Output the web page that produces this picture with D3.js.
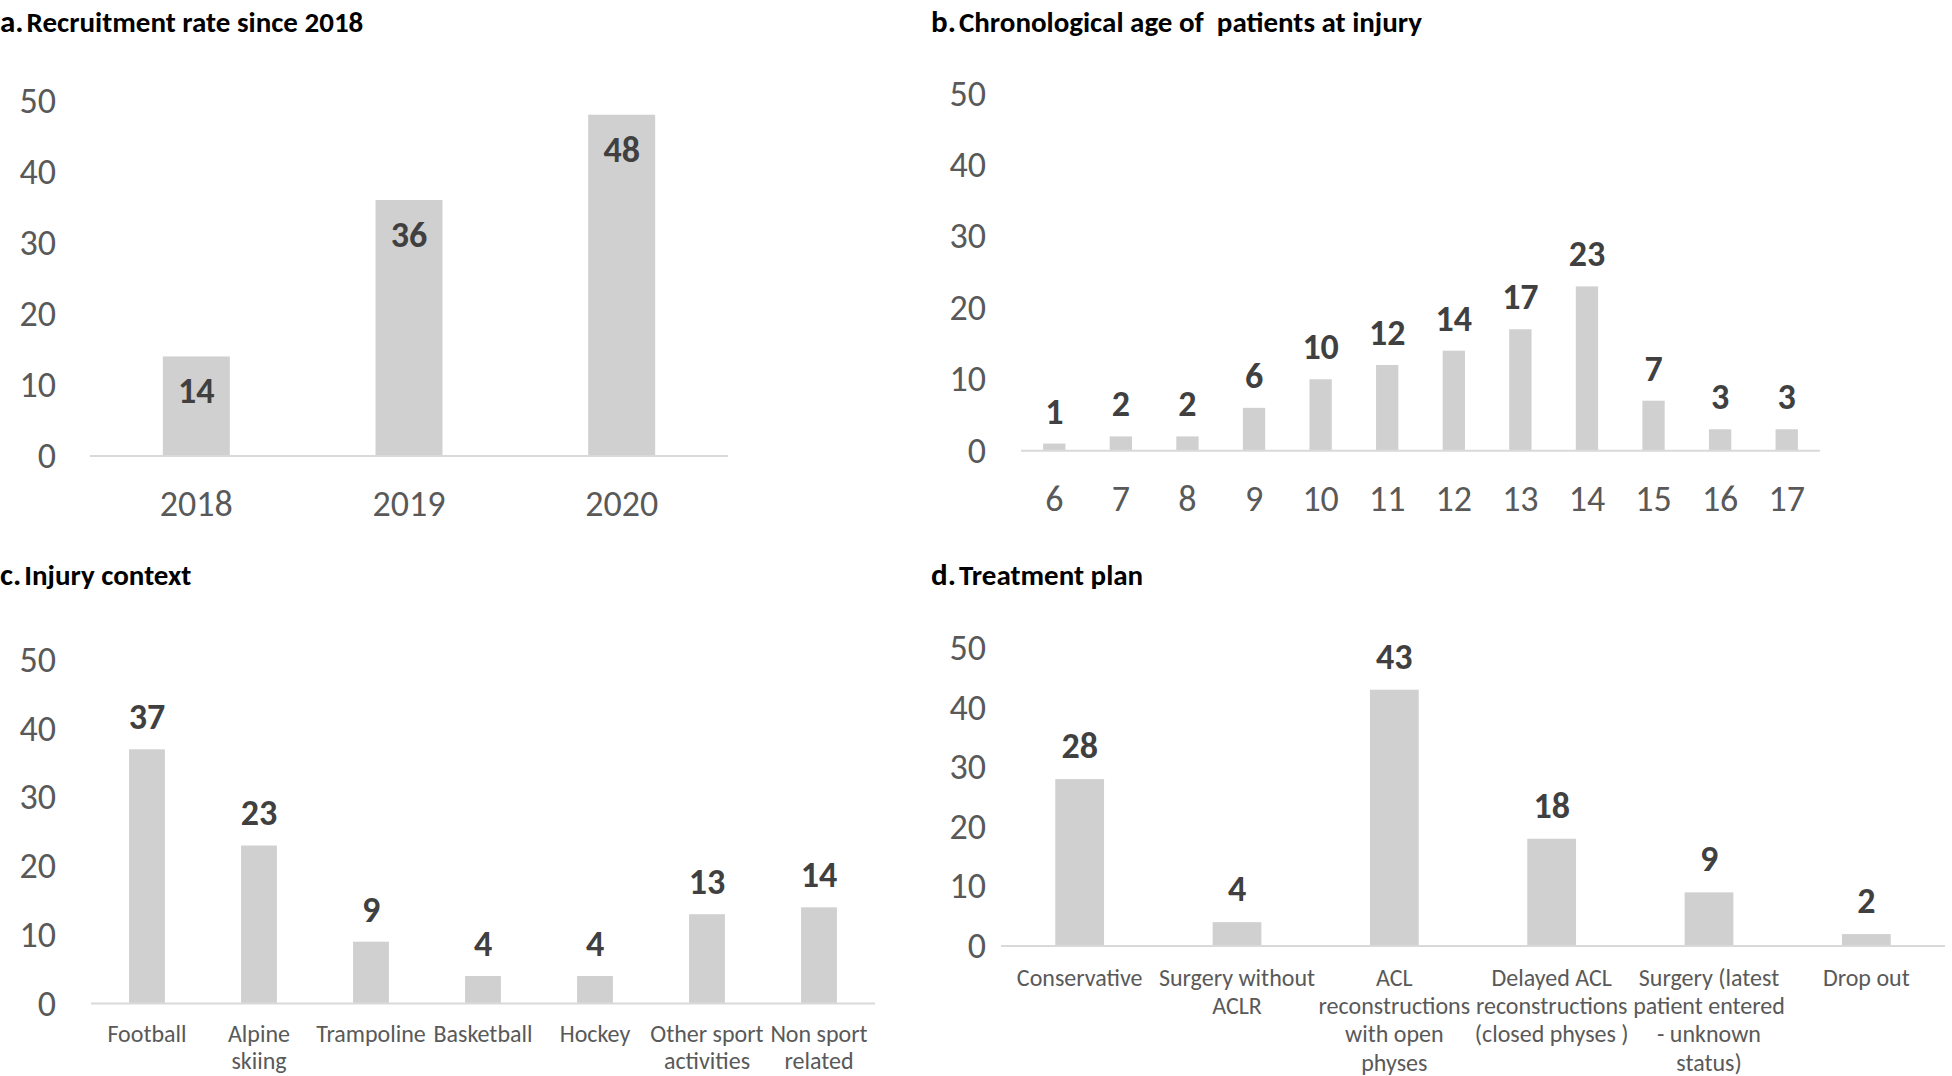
<!DOCTYPE html>
<html>
<head>
<meta charset="utf-8">
<script src="https://cdn.jsdelivr.net/npm/d3@7"></script>
<style>
  html, body { margin: 0; padding: 0; background: #fff; }
  svg { display: block; }
  text { font-family: Carlito, Calibri, "Liberation Sans Narrow", "DejaVu Sans Condensed", sans-serif; white-space: pre; }
</style>
</head>
<body>
<svg id="chart" width="1952" height="1076"></svg>
<script>
// ---------- data ----------
const yTickValues = [0, 10, 20, 30, 40, 50];

const titleA = "Recruitment rate since 2018";
const yearsA = ["2018", "2019", "2020"];
const recruitA = [14, 36, 48];

const titleB = "Chronological age of  patients at injury";
const agesB = ["6", "7", "8", "9", "10", "11", "12", "13", "14", "15", "16", "17"];
const countsB = [1, 2, 2, 6, 10, 12, 14, 17, 23, 7, 3, 3];

const titleC = "Injury context";
const contextC = ["Football", "Alpine\nskiing", "Trampoline", "Basketball", "Hockey",
                  "Other sport\nactivities", "Non sport\nrelated"];
const countsC = [37, 23, 9, 4, 4, 13, 14];

const titleD = "Treatment plan";
const planD = ["Conservative", "Surgery without\nACLR", "ACL\nreconstructions\nwith open\nphyses",
               "Delayed ACL\nreconstructions\n(closed physes )", "Surgery (latest\npatient entered\n- unknown\nstatus)",
               "Drop out"];
const countsD = [28, 4, 43, 18, 9, 2];

// ---------- styles ----------
const BAR = "#d0d0d0";
const AXIS = "#d9d9d9";
const TICK = "#595959";
const VAL = "#404040";

const svg = d3.select("#chart");

function panel(cfg) {
  const g = svg.append("g");
  // title
  const t = g.append("text").attr("x", cfg.titleX).attr("y", cfg.titleY).attr("fill", "#000")
    .attr("font-weight", "bold");
  t.append("tspan").attr("font-size", 31).text(cfg.letter);
  t.append("tspan").attr("font-size", 29).attr("dx", 3).text(cfg.title);

  const x = d3.scaleBand().domain(cfg.cats).range(cfg.xRange)
              .paddingInner(cfg.pad).paddingOuter(cfg.pad / 2);
  const y = d3.scaleLinear().domain([0, 50]).range(cfg.yRange);
  const rows = cfg.cats.map((c, i) => ({ c, v: cfg.vals[i] }));

  // y axis (labels only)
  const ya = g.append("g").attr("transform", `translate(${cfg.yLabelX},0)`)
    .call(d3.axisLeft(y).tickValues(yTickValues).tickSize(0).tickPadding(0));
  ya.select(".domain").remove();
  ya.selectAll("text").attr("fill", TICK).attr("font-size", cfg.tickSize)
    .attr("font-family", null);

  // bars
  g.selectAll("rect.bar").data(rows).join("rect")
    .attr("class", "bar")
    .attr("x", d => x(d.c))
    .attr("width", x.bandwidth())
    .attr("y", d => y(d.v))
    .attr("height", d => y(0) - y(d.v))
    .attr("fill", BAR);

  // baseline
  const xa = g.append("g").attr("transform", `translate(0,${y(0)})`)
    .call(d3.axisBottom(x).tickSize(0).tickFormat(""));
  xa.select(".domain").attr("stroke", AXIS).attr("stroke-width", 2)
    .attr("d", `M${cfg.xRange[0]},0H${cfg.xRange[1]}`);

  // category labels
  rows.forEach(d => {
    const lines = d.c.split("\n");
    const tx = g.append("text")
      .attr("text-anchor", "middle")
      .attr("fill", TICK)
      .attr("font-size", cfg.catSize);
    lines.forEach((ln, i) => {
      tx.append("tspan")
        .attr("x", x(d.c) + x.bandwidth() / 2)
        .attr("y", cfg.catY + i * cfg.catLine)
        .attr("dominant-baseline", "central")
        .text(ln);
    });
  });

  // value labels
  g.selectAll("text.val").data(rows).join("text")
    .attr("class", "val")
    .attr("x", d => x(d.c) + x.bandwidth() / 2)
    .attr("y", d => y(d.v) + cfg.valOffset)
    .attr("text-anchor", "middle")
    .attr("dominant-baseline", "central")
    .attr("fill", VAL)
    .attr("font-weight", "bold")
    .attr("font-size", cfg.valSize)
    .text(d => d.v);
}

panel({ letter: "a.", title: titleA, titleX: 0, titleY: 32,
  cats: yearsA, vals: recruitA, xRange: [90, 728], yRange: [456, 100.5], pad: 0.685,
  yLabelX: 56, tickSize: 36, catSize: 36, catY: 504, catLine: 30, valSize: 36, valOffset: 35 });

panel({ letter: "b.", title: titleB, titleX: 931, titleY: 32,
  cats: agesB, vals: countsB, xRange: [1021, 1820], yRange: [450.7, 93.5], pad: 0.665,
  yLabelX: 986, tickSize: 36, catSize: 36, catY: 499, catLine: 30, valSize: 36, valOffset: -32 });

panel({ letter: "c.", title: titleC, titleX: 0, titleY: 585,
  cats: contextC, vals: countsC, xRange: [91, 875], yRange: [1003.5, 660], pad: 0.68,
  yLabelX: 56, tickSize: 36, catSize: 24, catY: 1033, catLine: 27.5, valSize: 36, valOffset: -32 });

panel({ letter: "d.", title: titleD, titleX: 931, titleY: 585,
  cats: planD, vals: countsD, xRange: [1001, 1945], yRange: [946, 648], pad: 0.69,
  yLabelX: 986, tickSize: 36, catSize: 24, catY: 977, catLine: 28.4, valSize: 36, valOffset: -33 });
</script>
</body>
</html>
